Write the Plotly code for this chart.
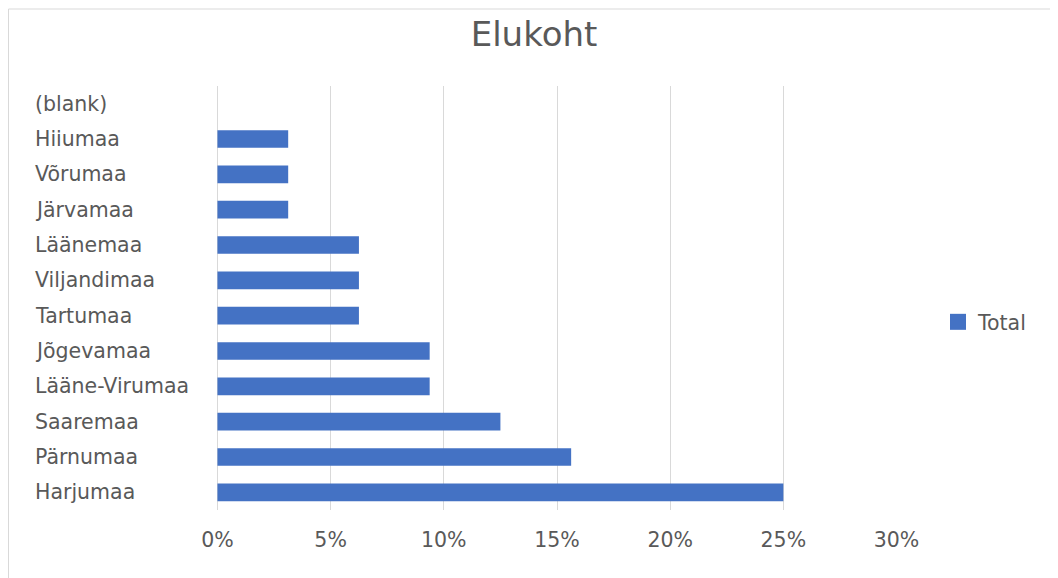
import plotly.graph_objects as go

categories = ["Harjumaa", "Pärnumaa", "Saaremaa", "Lääne-Virumaa", "Jõgevamaa",
              "Tartumaa", "Viljandimaa", "Läänemaa", "Järvamaa", "Võrumaa",
              "Hiiumaa", "(blank)"]
values = [0.25, 0.15625, 0.125, 0.09375, 0.09375, 0.0625, 0.0625, 0.0625,
          0.03125, 0.03125, 0.03125, 0.0]
tick_vals = [0, 0.05, 0.10, 0.15, 0.20, 0.25, 0.30]
tick_text = ["0%", "5%", "10%", "15%", "20%", "25%", "30%"]

# figure is placed by the page at (8, 8); coordinates below are in figure space
W, H = 1050, 570
L, R, T, B = 209, 161, 78, 68
pw, ph = W - L - R, H - T - B

font = "DejaVu Sans, Verdana, sans-serif"
grey = "#595959"
blue = "#4472C4"
gridc = "#d9d9d9"

fig = go.Figure()
fig.add_trace(go.Bar(
    x=values, y=categories, orientation="h", name="Total", showlegend=False,
    marker=dict(color=blue, line=dict(width=0)), width=0.5,
))
# legend entry (square key like the reference)
fig.add_trace(go.Scatter(
    x=[None], y=[None], mode="markers", name="Total",
    marker=dict(symbol="square", size=20, color=blue),
))

annotations = []
for c in categories:
    annotations.append(dict(
        x=(25 - L) / pw, xref="paper", y=c, yref="y", text=c, showarrow=False,
        xanchor="left", yanchor="middle", font=dict(family=font, size=20.5, color=grey),
    ))

fig.update_layout(
    width=W, height=H,
    margin=dict(l=L, r=R, t=T, b=B),
    paper_bgcolor="white", plot_bgcolor="white",
    title=dict(text="Elukoht", x=526 / W, xanchor="center", y=1 - 26 / H, yanchor="middle",
               font=dict(family=font, size=34, color=grey)),
    xaxis=dict(range=[-0.0002, 0.3002], tickvals=tick_vals, ticktext=tick_text,
               showgrid=True, gridcolor=gridc, gridwidth=1.3,
               zeroline=True, zerolinecolor=gridc, zerolinewidth=1.3,
               showline=False, ticks="", ticklabelstandoff=15,
               tickfont=dict(family=font, size=20.5, color=grey), fixedrange=True),
    yaxis=dict(categoryorder="array", categoryarray=categories, showticklabels=False,
               showgrid=False, zeroline=False, showline=False, ticks="", fixedrange=True),
    showlegend=True,
    legend=dict(x=(930 - L) / pw, y=(H - B - 314) / ph, xanchor="left", yanchor="middle",
                font=dict(family=font, size=20.5, color=grey), itemsizing="trace",
                itemwidth=30, bgcolor="rgba(0,0,0,0)"),
    annotations=annotations,
    shapes=[dict(type="rect", xref="paper", yref="paper",
                 x0=(0.5 - L) / pw, x1=(W + 20 - L) / pw,
                 y0=(H - B - (H + 20)) / ph, y1=(H - B - 1) / ph,
                 line=dict(color=gridc, width=1), fillcolor="rgba(0,0,0,0)",
                 layer="below")],
)

fig.write_html("out.html")
